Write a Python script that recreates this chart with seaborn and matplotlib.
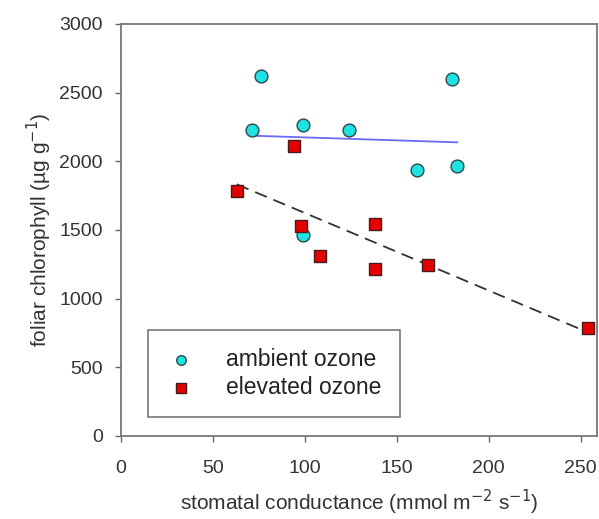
import numpy as np
import pandas as pd
import matplotlib
matplotlib.use('Agg')
import matplotlib.pyplot as plt
import seaborn as sns

# data
amb_x = [71, 76, 99, 124, 99, 161, 180, 183]
amb_y = [2230, 2620, 2265, 2225, 1465, 1935, 2600, 1965]
elev_x = [63, 94, 98, 108, 138, 138, 167, 254]
elev_y = [1780, 2110, 1530, 1310, 1215, 1540, 1245, 787]

sns.set_style('white')
plt.rcParams['font.family'] = ['Liberation Sans', 'DejaVu Sans']

amb = pd.DataFrame({'gs': amb_x, 'chl': amb_y})
elev = pd.DataFrame({'gs': elev_x, 'chl': elev_y})

fig = plt.figure(figsize=(5.99, 5.19), dpi=100)
ax = fig.add_axes([0.202, 0.160, 0.795, 0.794])

# regression lines
sns.regplot(data=amb, x='gs', y='chl', ci=None, scatter=False, ax=ax,
            line_kws={'color': '#6a6af5', 'lw': 1.3})
sns.regplot(data=elev, x='gs', y='chl', ci=None, scatter=False, ax=ax,
            line_kws={'color': '#333333', 'lw': 1.3, 'ls': (0, (7, 4))})

sns.scatterplot(data=amb, x='gs', y='chl', marker='o', s=85, color='#1fe3e3',
                edgecolor='#2b4a4a', linewidth=1.0, ax=ax, label='ambient ozone', zorder=3)
sns.scatterplot(data=elev, x='gs', y='chl', marker='s', s=80, color='#e50000',
                edgecolor='#4a1a1a', linewidth=1.0, ax=ax, label='elevated ozone', zorder=3)

ax.set_xlim(0, 259)
ax.set_ylim(0, 3000)
ax.set_xticks([0, 50, 100, 150, 200, 250])
ax.set_yticks([0, 500, 1000, 1500, 2000, 2500, 3000])
ax.tick_params(direction='out', length=4, width=1, color='#666666',
               labelsize=14, labelcolor='#333333', left=True, bottom=True)
ax.tick_params(axis='x', pad=13)
ax.tick_params(axis='y', pad=9)
for sp in ax.spines.values():
    sp.set_color('#777777')
    sp.set_linewidth(1.3)

ax.set_xlabel('stomatal conductance (mmol m$^{-2}$ s$^{-1}$)', fontsize=15,
              color='#333333', labelpad=8)
ax.set_ylabel('foliar chlorophyll (\u00b5g g$^{-1}$)', fontsize=15,
              color='#333333', labelpad=4)

leg = ax.legend(loc='lower left', bbox_to_anchor=(0.057, 0.046), fontsize=16.5,
                frameon=True, fancybox=False, borderpad=0.8, handlelength=1.3,
                handletextpad=1.3, labelspacing=0.2, borderaxespad=0,
                markerscale=0.75)
leg.get_frame().set_edgecolor('#555555')
leg.get_frame().set_linewidth(1.2)
for t in leg.get_texts():
    t.set_color('#222222')

fig.savefig('out.png', dpi=100)
